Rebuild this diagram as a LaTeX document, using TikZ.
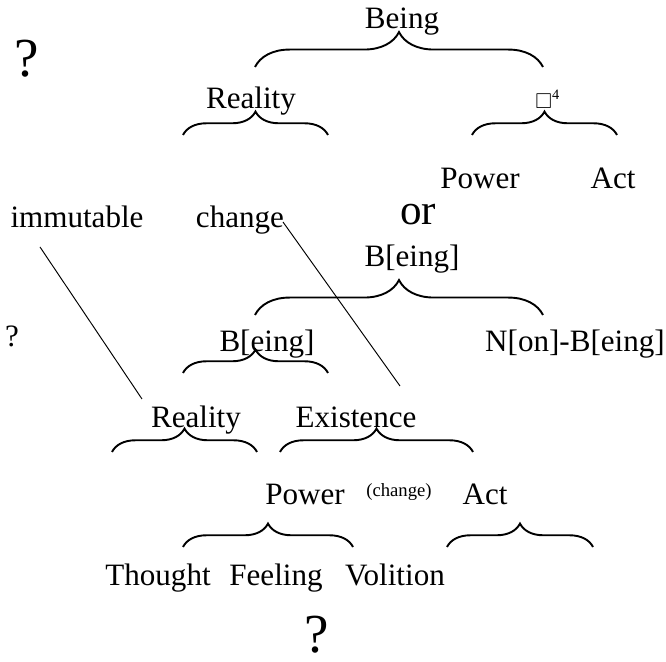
\documentclass[tikz,border=0pt]{standalone}
\usepackage{amssymb}
\usepackage{fontspec}
\setmainfont{Liberation Serif}
\usetikzlibrary{decorations.pathreplacing}

\tikzset{
    word/.style={anchor=base, inner sep=0pt, font=\fontsize{13}{15}\selectfont},
    tiny/.style={anchor=base, inner sep=0pt, font=\fontsize{7.8}{9}\selectfont},
    bigword/.style={anchor=base, inner sep=0pt, font=\fontsize{18}{21}\selectfont},
    query/.style={anchor=base, inner sep=0pt, font=\fontsize{23}{26}\selectfont},
    widebrace/.style={decorate, decoration={brace, amplitude=14.6pt}, line width=0.8pt},
    narrowbrace/.style={decorate, decoration={brace, amplitude=9.8pt}, line width=0.8pt},
    link/.style={line width=0.4pt}
}

\begin{document}
\begin{tikzpicture}[x=0.0147cm, y=-0.0147cm]
    \useasboundingbox (0,0) rectangle (666,662);

    % First division
    \node[query] (q-top) at (27,77) {?};
    \node[word] (being) at (402,29) {Being};
    \draw[widebrace] (255,67) -- (543,67);

    \node[word] (reality-a) at (251,109) {Reality};
    \node[word] (tofu) at (548,109) {\fontsize{9}{10}\selectfont$\square$\textsuperscript{4}};
    \draw[narrowbrace] (183,135) -- (328,135);
    \draw[narrowbrace] (472,135) -- (617,135);

    \node[word] (power-a) at (480,189) {Power};
    \node[word] (act-a) at (613,189) {Act};

    \node[word] (immutable) at (77,228) {immutable};
    \node[word] (change) at (240,228) {change};

    % Second division
    \node[bigword] (or) at (418,225) {or};
    \node[word] (being-b) at (412,267) {B[eing]};
    \draw[widebrace] (255,315) -- (543,315);

    \node[word] (q-mid) at (12,347) {?};
    \node[word] (being-c) at (267,352) {B[eing]};
    \node[word] (nonbeing) at (575,352) {N[on]-B[eing]};
    \draw[narrowbrace] (183,373) -- (328,373);

    \node[word] (reality-b) at (196,428) {Reality};
    \node[word] (existence) at (356,428) {Existence};
    \draw[narrowbrace] (112,452) -- (257,452);
    \draw[narrowbrace] (280,452) -- (473,452);

    \node[word] (power-b) at (305,505) {Power};
    \node[tiny] (change-b) at (399,497) {(change)};
    \node[word] (act-b) at (485,505) {Act};
    \draw[narrowbrace] (183,547) -- (353,547);
    \draw[narrowbrace] (447,547) -- (593,547);

    \node[word] (thought) at (158,585) {Thought};
    \node[word] (feeling) at (276,585) {Feeling};
    \node[word] (volition) at (395,585) {Volition};
    \node[query] (q-bottom) at (317,653) {?};

    % Cross links
    \coordinate (immutable-foot) at (40,247);
    \coordinate (reality-head) at (142,399);
    \coordinate (change-tail) at (283,222);
    \coordinate (existence-head) at (400,386);
    \draw[link] (immutable-foot) -- (reality-head);
    \draw[link] (change-tail) -- (existence-head);
\end{tikzpicture}
\end{document}
